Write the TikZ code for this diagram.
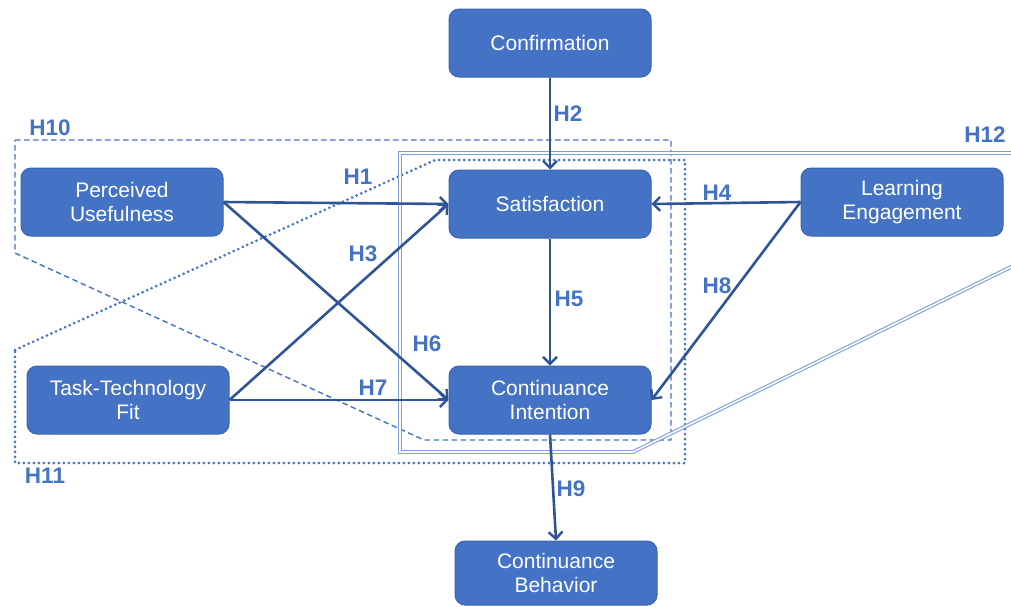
\documentclass[tikz,border=0pt]{standalone}
\usepackage{fontspec}
\setmainfont{Liberation Sans}
\usetikzlibrary{arrows.meta}
\definecolor{boxfill}{HTML}{4472C4}
\definecolor{boxline}{HTML}{3A64AF}
\definecolor{arrowc}{HTML}{2F5597}
\definecolor{labc}{HTML}{4472C4}
\definecolor{dblc}{HTML}{7F9FD8}
\begin{document}
\begin{tikzpicture}[x=1pt,y=-1pt,
 box/.style={draw=boxline, line width=1pt, fill=boxfill, rounded corners=10pt, text=white,
   font=\fontsize{21}{24.5}\selectfont, align=center, minimum width=202pt, minimum height=68pt, inner sep=0pt},
 conn/.style={draw=arrowc, line width=2.6pt, -{Straight Barb[length=7pt,width=14pt,line width=2.4pt]}},
 hlab/.style={text=labc, font=\fontsize{22.5}{26}\selectfont\bfseries, inner sep=0pt},
 grpdash/.style={draw=labc, line width=1.4pt, dash pattern=on 5.5pt off 3.5pt},
 grpdot/.style={draw=labc, line width=3pt, dash pattern=on 0pt off 5pt, line cap=round},
 grpdbl/.style={draw=dblc, double=white, double distance=1.6pt, line width=1.1pt}
]
\useasboundingbox (0,0) rectangle (1011,606);

% group outlines
\draw[grpdash] (15,140) -- (671,140) -- (671,440) -- (424,440) -- (15,253) -- cycle;
\draw[grpdot] (15,350) -- (435,160) -- (685,160) -- (685,463) -- (15,463) -- cycle;
\draw[grpdbl] (1015,153) -- (400,153) -- (400,452) -- (633,452) -- (1015,265);

% boxes
\node[box] (conf) at (550,43) {Confirmation};
\node[box] (pu) at (122,202) {Perceived\\Usefulness};
\node[box] (sat) at (550,204) {Satisfaction};
\node[box] (le) at (902,202) {Learning\\Engagement};
\node[box] (ttf) at (128,400) {Task-Technology\\Fit};
\node[box] (ci) at (550,400) {Continuance\\Intention};
\node[box, minimum height=64pt] (cb) at (556,573) {Continuance\\Behavior};

% connectors
\draw[conn] (conf.south) -- (sat.north);
\draw[conn] (pu.east) -- (sat.west);
\draw[conn] (pu.east) -- (ci.west);
\draw[conn] (ttf.east) -- (sat.west);
\draw[conn] (ttf.east) -- (ci.west);
\draw[conn] (le.west) -- (sat.east);
\draw[conn] (le.west) -- (ci.east);
\draw[conn] (sat.south) -- (ci.north);
\draw[conn] (ci.south) -- (cb.north);

% labels
\node[hlab] (h10) at (50,128) {H10};
\node[hlab] (h11) at (45,476) {H11};
\node[hlab] (h12) at (985,135) {H12};
\node[hlab] (h1) at (358,177) {H1};
\node[hlab] (h2) at (568,114) {H2};
\node[hlab] (h3) at (363,254) {H3};
\node[hlab] (h4) at (717,193) {H4};
\node[hlab] (h5) at (569,299) {H5};
\node[hlab] (h6) at (427,344) {H6};
\node[hlab] (h7) at (373,388) {H7};
\node[hlab] (h8) at (717,286) {H8};
\node[hlab] (h9) at (571,489) {H9};
\end{tikzpicture}
\end{document}
